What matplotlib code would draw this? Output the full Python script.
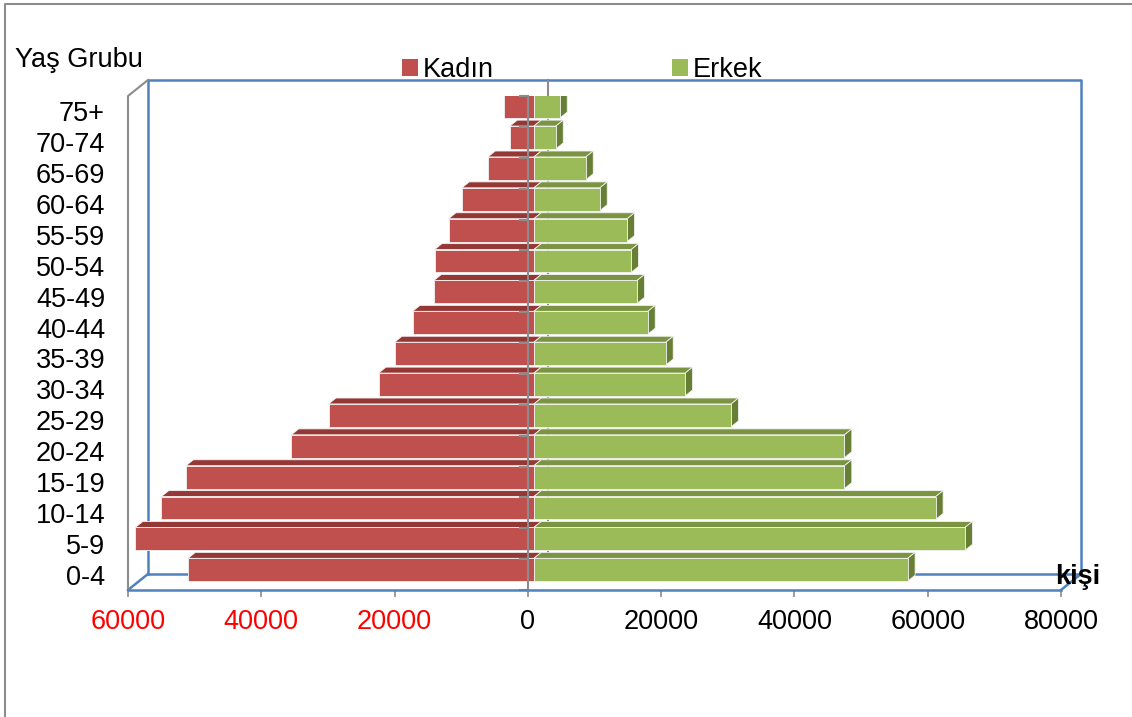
import matplotlib.pyplot as plt
from matplotlib.patches import Polygon, Rectangle, Patch
from matplotlib.lines import Line2D

plt.rcParams["font.family"] = ["Liberation Sans", "DejaVu Sans"]

groups = ["0-4", "5-9", "10-14", "15-19", "20-24", "25-29", "30-34", "35-39",
          "40-44", "45-49", "50-54", "55-59", "60-64", "65-69", "70-74", "75+"]
kadin = [51900, 59800, 55900, 52200, 36400, 30800, 23300, 20900,
         18200, 15000, 14900, 12800, 10800, 6900, 3600, 4500]
erkek = [56100, 64700, 60300, 46600, 46600, 29600, 22700, 19800,
         17100, 15500, 14600, 14000, 9900, 7800, 3300, 3900]
xticks = [-60000, -40000, -20000, 0, 20000, 40000, 60000, 80000]

W, H = 1132, 717
FS = 19.5
BLUE = "#4F81BD"
GRAY = "#8C8C8C"

# 3d look: wall depth and bar position inside the depth
DX, DY = 3000, 0.52
FX, FY = 0.3 * DX, 0.3 * DY
BX, BY = 0.37 * DX, 0.37 * DY
BH = 0.74

fig = plt.figure(figsize=(W / 100, H / 100), dpi=100)
ax = fig.add_axes([128 / W, 1 - 590 / H, (1061 - 128) / W, 494 / H])
ax.set_xlim(-60000, 80000)
ax.set_ylim(-0.5, 15.5)
for s in ax.spines.values():
    s.set_visible(False)

x0, x1 = -60000, 80000
y0, y1 = -0.5, 15.5

# back wall and floor
ax.plot([x0 + DX, x0 + DX, x1 + DX, x1 + DX], [y0 + DY, y1 + DY, y1 + DY, y0 + DY],
        color=BLUE, lw=1.8, clip_on=False, zorder=1)
ax.plot([x0 + DX, x1 + DX], [y0 + DY, y0 + DY], color=BLUE, lw=1.8, clip_on=False, zorder=1)
ax.plot([x0, x0 + DX], [y0, y0 + DY], color=BLUE, lw=1.8, clip_on=False, zorder=1)
ax.plot([x1, x1 + DX], [y0, y0 + DY], color=BLUE, lw=1.8, clip_on=False, zorder=1)
# left gray wall edge
ax.plot([x0, x0, x0 + DX], [y0, y1, y1 + DY], color=GRAY, lw=1.5, clip_on=False, zorder=2)
# back gray vertical axis
ax.plot([DX, DX], [y0 + DY, y1 + DY], color=GRAY, lw=1.5, clip_on=False, zorder=1.5)

edge = dict(edgecolor="#F2F2F2", linewidth=0.6, zorder=3)
for i in range(len(groups)):
    yb = i - BH / 2 + FY
    yt = i + BH / 2 + FY
    k, e = kadin[i], erkek[i]
    # Kadin (left)
    ax.add_patch(Polygon([(FX - k, yt), (FX, yt), (FX + BX, yt + BY), (FX - k + BX, yt + BY)],
                         facecolor="#943735", **edge))
    ax.add_patch(Rectangle((FX - k, yb), k, BH, facecolor="#C0504D", **edge))
    # Erkek (right)
    ax.add_patch(Polygon([(FX, yt), (FX + e, yt), (FX + e + BX, yt + BY), (FX + BX, yt + BY)],
                         facecolor="#7A9441", **edge))
    ax.add_patch(Polygon([(FX + e, yb), (FX + e, yt), (FX + e + BX, yt + BY), (FX + e + BX, yb + BY)],
                         facecolor="#677E35", **edge))
    ax.add_patch(Rectangle((FX, yb), e, BH, facecolor="#9BBB59", **edge))

# front gray vertical axis with category ticks
ax.plot([0, 0], [y0, y1], color=GRAY, lw=1.5, clip_on=False, zorder=5)
for b in range(len(groups) + 1):
    ax.plot([-1200, 0], [b - 0.5, b - 0.5], color=GRAY, lw=1.5, clip_on=False, zorder=5)

# front floor
ax.plot([x0, x1], [y0, y0], color=BLUE, lw=1.8, clip_on=False, zorder=6)

ax.set_xticks(xticks, labels=[str(abs(v)) for v in xticks])
for lbl, v in zip(ax.get_xticklabels(), xticks):
    lbl.set_color("red" if v < 0 else "black")
ax.tick_params(axis="x", length=5, width=1.2, color=GRAY, pad=9, labelsize=FS)
ax.set_yticks(range(len(groups)), labels=groups)
ax.tick_params(axis="y", length=0, pad=16.5, labelsize=FS)

fig.text(15 / W, 1 - 60 / H, "Yaş Grubu", fontsize=FS, va="center", ha="left")
fig.text(1055 / W, 1 - 577 / H, "kişi", fontsize=FS, fontweight="bold", va="center", ha="left")

handles = [Patch(facecolor="#C0504D", label="Kadın"), Patch(facecolor="#9BBB59", label="Erkek")]
fig.legend(handles=handles, loc="center left", bbox_to_anchor=(402 / W, 1 - 70 / H),
           ncol=2, frameon=False, fontsize=FS, borderpad=0, borderaxespad=0,
           handlelength=0.6, handleheight=0.6, handletextpad=0.15, columnspacing=6.6)

# chart area border (only top and left are visible in the crop)
fig.lines.append(Line2D([5 / W, 5 / W, 1], [0, 1 - 4 / H, 1 - 4 / H],
                        transform=fig.transFigure, color="#8C8C8C", lw=1.5))

plt.savefig("out.png", dpi=100)
